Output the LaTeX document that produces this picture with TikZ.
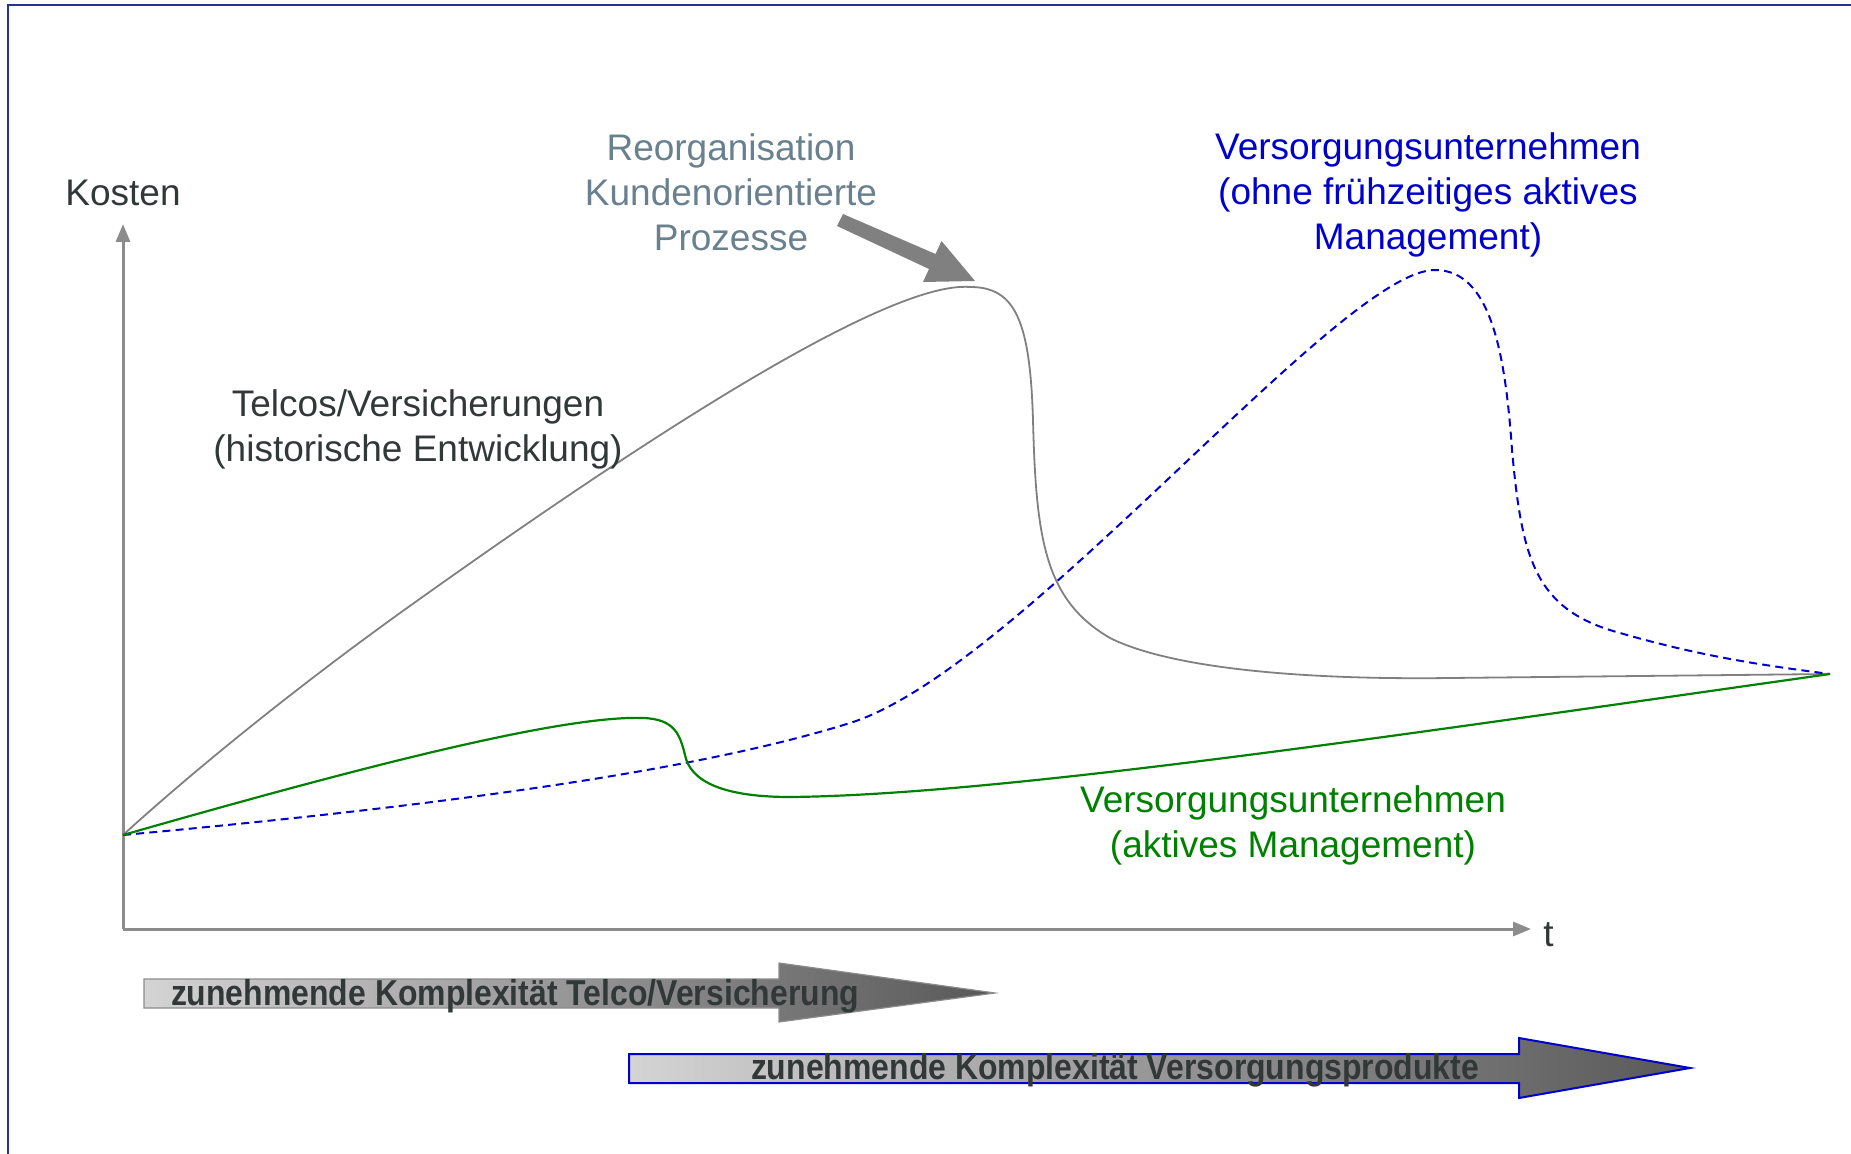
\documentclass[tikz,border=0pt]{standalone}
\usepackage{fontspec}
\setmainfont{Liberation Sans}
\usetikzlibrary{arrows.meta}
\definecolor{frameblue}{RGB}{40,50,150}
\definecolor{axisgray}{RGB}{140,140,140}
\definecolor{curvegray}{RGB}{128,128,128}
\definecolor{txtdark}{RGB}{50,56,56}
\definecolor{reorg}{RGB}{105,128,142}
\definecolor{vblue}{RGB}{0,0,205}
\definecolor{vgreen}{RGB}{0,128,0}
\definecolor{shlight}{RGB}{212,212,212}
\definecolor{shdark}{RGB}{88,88,88}
\begin{document}
\begin{tikzpicture}[x=0.5pt,y=-0.5pt,
  lbl/.style={font=\fontsize{18.5pt}{22.5pt}\selectfont, align=center, inner sep=0pt},
  axisline/.style={draw=axisgray, line width=1.5pt, -{Triangle[length=9pt,width=7pt]}},
  graycurve/.style={draw=curvegray, line width=0.9pt},
  bluecurve/.style={draw=vblue, line width=1pt, dash pattern=on 4pt off 2.6pt},
  greencurve/.style={draw=vgreen, line width=1.1pt},
  bandtext/.style={font=\fontsize{18pt}{20pt}\selectfont\bfseries, text=txtdark, inner sep=0pt}]
\useasboundingbox (0,0) rectangle (1851,1154);

% frame edges
\draw[frameblue, line width=1pt] (8,1154) -- (8,5) -- (1851,5);

% axes
\coordinate (O) at (123,929);
\coordinate (ytop) at (123,224);
\coordinate (xend) at (1531,929);
\draw[axisline] (O) -- (ytop);
\draw[axisline] (O) -- (xend);
\node[lbl, text=txtdark, anchor=base] (kosten) at (123,206) {Kosten};
\node[lbl, text=txtdark, anchor=base west] (t) at (1543,946) {t};

% common start and end of the cost curves
\coordinate (s) at (123,835);
\coordinate (e) at (1830,674);

% Telcos / Versicherungen
\draw[graycurve] (s) .. controls (200,765) and (300,685) .. (400,613)
  .. controls (600,470) and (880,280) .. (970,287)
  .. controls (1015,287) and (1030,320) .. (1033,420)
  .. controls (1036,540) and (1045,600) .. (1110,638)
  .. controls (1170,668) and (1300,680) .. (1450,678)
  -- (e);

% Versorgungsunternehmen ohne fruehzeitiges Management
\draw[bluecurve] (s) .. controls (450,805) and (700,770) .. (850,723)
  .. controls (1020,670) and (1340,270) .. (1435,270)
  .. controls (1490,270) and (1505,350) .. (1512,450)
  .. controls (1522,560) and (1535,610) .. (1620,633)
  .. controls (1700,656) and (1760,665) .. (e);

% Versorgungsunternehmen aktives Management
\draw[greencurve] (s) .. controls (350,770) and (560,715) .. (643,718)
  .. controls (675,719) and (680,735) .. (685,755)
  .. controls (690,780) and (720,797) .. (790,797)
  .. controls (1000,795) and (1400,735) .. (e);

% labels
\node[lbl, text=reorg] (reorg) at (731,192) {Reorganisation\\Kundenorientierte\\Prozesse};
\node[lbl, text=vblue] (ohne) at (1428,195) {Versorgungsunternehmen\\(ohne frühzeitiges aktives\\Management)};
\node[lbl, text=txtdark] (telcos) at (418,429) {Telcos/Versicherungen\\(historische Entwicklung)};
\node[lbl, text=vgreen] (aktiv) at (1293,825) {Versorgungsunternehmen\\(aktives Management)};

% pointer to the peak
\fill[curvegray] (837,226) -- (929,269) -- (923,282) -- (975,281)
  -- (941.5,241) -- (935.5,254) -- (843,214) -- cycle;

% complexity bands
\draw[draw=axisgray, line width=0.6pt, left color=shlight, right color=shdark]
  (144,979) -- (779,979) -- (779,963) -- (995,993) -- (779,1022) -- (779,1008) -- (144,1008) -- cycle;
\node[bandtext] (band1) at (515,996) {\resizebox{344pt}{\height}{zunehmende Komplexität Telco/Versicherung}};

\draw[draw=vblue, line width=1pt, left color=shlight, right color=shdark]
  (629,1054) -- (1519,1054) -- (1519,1038) -- (1690,1068) -- (1519,1098) -- (1519,1083) -- (629,1083) -- cycle;
\node[bandtext] (band2) at (1115,1070) {\resizebox{364pt}{\height}{zunehmende Komplexität Versorgungsprodukte}};
\end{tikzpicture}
\end{document}
